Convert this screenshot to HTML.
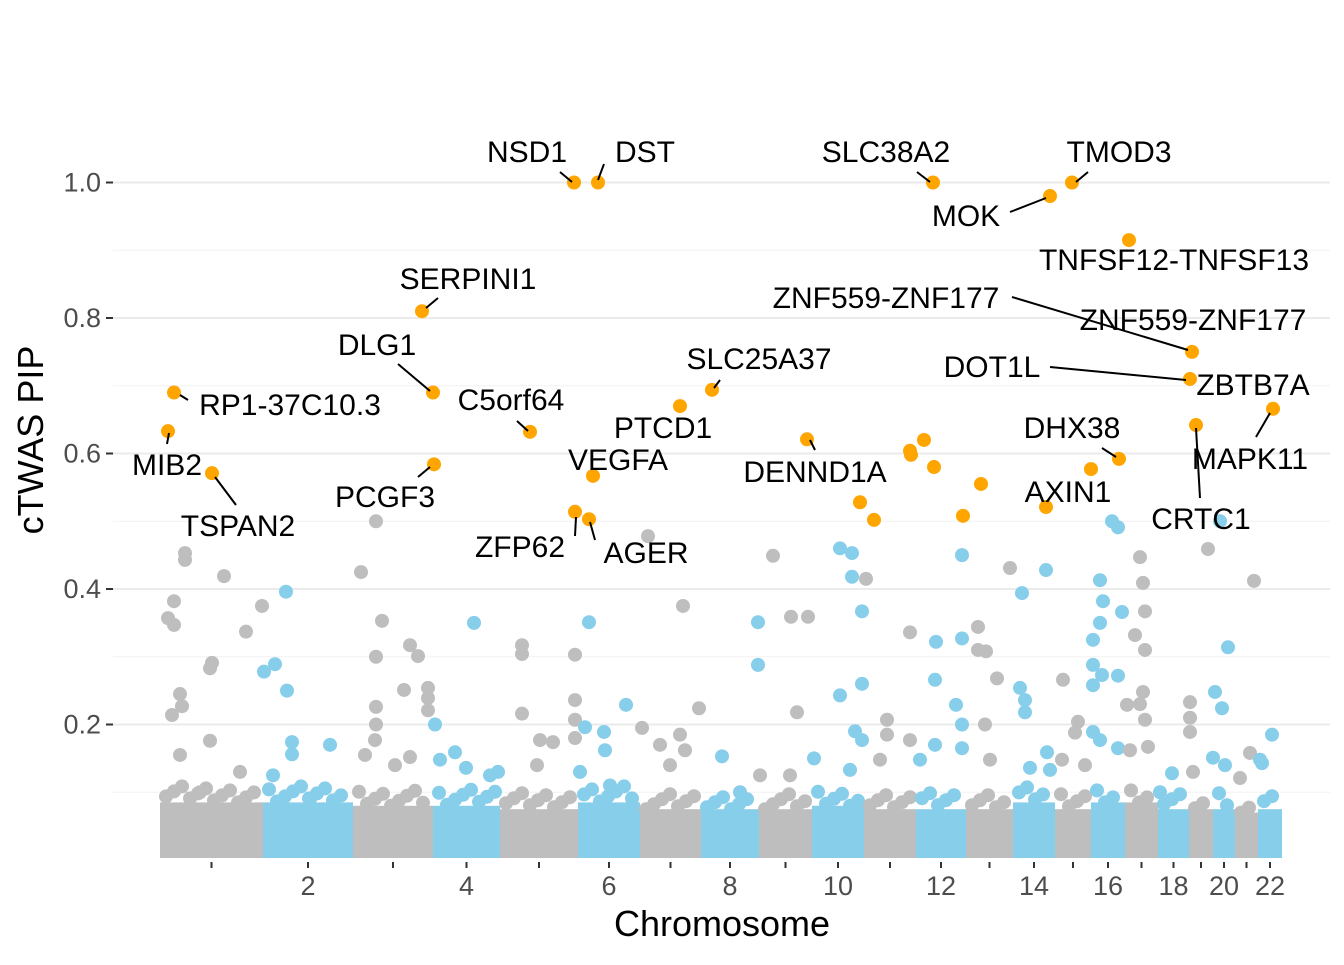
<!DOCTYPE html>
<html><head><meta charset="utf-8"><style>
body{margin:0;background:#fff}
svg text{font-family:"Liberation Sans",sans-serif}
</style></head><body>
<svg id="chart" width="1344" height="960" xmlns="http://www.w3.org/2000/svg">
<g id="grid"></g>
<g id="bands"></g>
<g id="pts"></g>
<g id="hits"></g>
<g id="labels"></g>
<g id="axes"></g>
<text x="722" y="936" font-size="36" text-anchor="middle" fill="#000">Chromosome</text>
<text transform="translate(43,440) rotate(-90)" font-size="36" text-anchor="middle" fill="#000">cTWAS PIP</text>
</svg>
<script>
const chrLen=[103,90,80,67,78,62,61,58,53,52,52,50,47,42,36,34,33,31,24,22,23,24];
const chrBand=[0.085,0.085,0.08,0.08,0.075,0.085,0.075,0.075,0.075,0.08,0.075,0.075,0.075,0.085,0.075,0.085,0.085,0.075,0.075,0.075,0.07,0.075];
const yTicks=[0.2,0.4,0.6,0.8,1.0];
const yTickLabels=["0.2","0.4","0.6","0.8","1.0"];
// background points: [cumulative position, pip]
const bgPoints=[[25,.453],[25,.443],[14,.382],[8,.357],[14,.347],[20,.245],[22,.227],[12,.214],[20,.155],[64,.419],[52,.291],[50,.283],[50,.176],[86,.337],[102,.375],[80,.13],[40,.10],
[126,.396],[104,.278],[115,.289],[127,.25],[132,.174],[132,.156],[170,.17],[113,.125],[150,.09],
[216,.5],[201,.425],[222,.353],[216,.3],[216,.226],[216,.2],[250,.317],[258,.301],[244,.251],[268,.254],[268,.239],[268,.221],[215,.177],[250,.152],[205,.155],[235,.14],
[314,.35],[275,.2],[295,.159],[306,.136],[330,.125],[338,.13],[280,.148],
[362,.317],[362,.304],[362,.216],[380,.177],[393,.174],[415,.303],[415,.236],[415,.207],[415,.18],[377,.14],
[429,.351],[425,.196],[444,.189],[445,.162],[420,.13],[466,.229],[450,.11],
[488,.478],[523,.375],[482,.195],[500,.17],[520,.185],[525,.162],[539,.224],[510,.14],
[598,.351],[598,.288],[562,.153],[580,.1],[600,.125],
[613,.449],[631,.359],[648,.359],[637,.218],[630,.125],
[680,.46],[692,.453],[692,.418],[702,.367],[702,.26],[680,.243],[695,.19],[702,.177],[654,.15],[690,.133],
[706,.415],[750,.336],[727,.207],[727,.185],[750,.177],[720,.148],
[776,.322],[775,.266],[802,.45],[802,.327],[796,.229],[802,.2],[802,.165],[775,.17],[760,.148],
[818,.344],[818,.31],[826,.308],[837,.268],[825,.2],[850,.431],[830,.148],
[862,.394],[886,.428],[860,.254],[865,.236],[865,.218],[887,.159],[870,.136],[890,.133],
[903,.266],[918,.204],[915,.188],[925,.14],[902,.148],
[952,.5],[958,.491],[940,.413],[943,.382],[940,.35],[933,.325],[933,.288],[933,.258],[942,.273],[962,.366],[958,.272],[933,.189],[940,.177],[958,.165],
[980,.447],[983,.409],[985,.367],[985,.31],[975,.332],[983,.248],[980,.23],[967,.229],[985,.207],[970,.162],[988,.167],
[1012,.128],[1000,.1],
[1048,.459],[1030,.233],[1030,.21],[1030,.189],[1033,.13],
[1060,.5],[1068,.314],[1055,.248],[1062,.224],[1053,.151],[1065,.14],
[1094,.412],[1090,.158],[1080,.121],
[1112,.185],[1100,.148],[1102,.143]];
// highlighted genes
const hitPos=[414,438,773,890,912,969,262,1032,1030,14,273,370,520,552,8,1113,1036,647,750,751,764,774,821,803,959,931,52,274,433,886,415,429,700,714];
const hitVal=[1.0,1.0,1.0,0.98,1.0,0.915,0.81,0.75,0.71,0.69,0.69,0.632,0.67,0.694,0.633,0.666,0.642,0.621,0.604,0.598,0.62,0.58,0.555,0.508,0.592,0.577,0.571,0.584,0.567,0.521,0.514,0.503,0.528,0.502];

const X0=160,Y0=860,YS=677.5,L=113,R=1330;
const ns="http://www.w3.org/2000/svg";
const xs=p=>X0+p, ys=v=>Y0-v*YS;
const starts=[];let c=0;for(const l of chrLen){starts.push(c);c+=l;}
const chrOf=p=>{let i=0;while(i<chrLen.length-1&&p>=starts[i+1])i++;return i;};
const colOf=i=>i%2===0?"#bebebe":"#87ceeb";
function mk(t,a,parent){const e=document.createElementNS(ns,t);for(const k in a)e.setAttribute(k,a[k]);parent.appendChild(e);return e;}
const G=id=>document.getElementById(id);
for(let v=0.1;v<=1.05;v+=0.2){const l=mk("line",{x1:L,x2:R,y1:ys(v),y2:ys(v),stroke:"#f2f2f2","stroke-width":1},G("grid"));

}
yTicks.forEach((v,i)=>{const l=mk("line",{x1:L,x2:R,y1:ys(v),y2:ys(v),stroke:"#ebebeb","stroke-width":2},G("grid"));


const t=mk("line",{x1:106,x2:113,y1:ys(v),y2:ys(v),stroke:"#333","stroke-width":2},G("axes"));


const tx=mk("text",{x:101,y:ys(v)+9,"font-size":27,"text-anchor":"end",fill:"#4d4d4d"},G("axes"));tx.textContent=yTickLabels[i];

});
chrLen.forEach((len,i)=>{const col=colOf(i);const x1=xs(starts[i]),x2=xs(starts[i]+len);const top=ys(chrBand[i]);
const r=mk("rect",{x:x1,y:top,width:len,height:Y0-2-top,fill:col},G("bands"));


for(let x=x1+6;x<x2-4;x+=8){const d=mk("circle",{cx:x,cy:top-((x*7)%17),r:7,fill:col},G("bands"));

}
const cx=xs(starts[i]+len/2);
const t=mk("line",{x1:cx,x2:cx,y1:862,y2:868,stroke:"#333","stroke-width":2},G("axes"));


if((i+1)%2===0){const tx=mk("text",{x:cx,y:895,"font-size":27,"text-anchor":"middle",fill:"#4d4d4d"},G("axes"));tx.textContent=String(i+1);

}});
bgPoints.forEach(p=>{const d=mk("circle",{cx:xs(p[0]),cy:ys(p[1]),r:7,fill:colOf(chrOf(p[0]))},G("pts"));

});
hitPos.forEach((p,i)=>{const d=mk("circle",{cx:xs(p),cy:ys(hitVal[i]),r:7,fill:"#ffa500"},G("hits"));

});
const labs=[["NSD1",527,152,[560,172,572,182]],["DST",645,152,[604,164,598,180]],["SLC38A2",886,152,[917,172,930,182]],
["MOK",966,216,[1010,212,1046,198]],["TMOD3",1119,152,[1088,172,1076,182]],["TNFSF12-TNFSF13",1174,260,null],
["SERPINI1",468,279,[438,298,426,308]],["ZNF559-ZNF177",886,298,[1012,297,1188,350]],["ZNF559-ZNF177",1193,320,null],
["DLG1",377,345,[398,364,430,391]],["SLC25A37",759,359,[720,380,714,388]],["DOT1L",992,367,[1050,367,1186,380]],
["ZBTB7A",1253,385,null],["RP1-37C10.3",290,405,[180,395,188,400]],["C5orf64",511,400,[517,421,528,431]],
["PTCD1",663,428,null],["MIB2",167,465,[167,444,169,433]],["MAPK11",1250,459,[1256,437,1270,413]],
["CRTC1",1201,519,[1200,498,1196,428]],["DHX38",1072,428,[1102,448,1116,457]],["DENND1A",815,472,[810,440,815,450]],
["VEGFA",618,460,null],["TSPAN2",238,526,[236,505,215,477]],["PCGF3",385,497,[418,477,430,467]],
["AXIN1",1068,492,null],["ZFP62",520,547,[575,536,576,517]],["AGER",646,553,[595,540,590,522]]];
labs.forEach(l=>{if(l[3]){const s=mk("line",{x1:l[3][0],y1:l[3][1],x2:l[3][2],y2:l[3][3],stroke:"#000","stroke-width":2},G("labels"));

}
const t=mk("text",{x:l[1],y:l[2]+10,"font-size":30,"text-anchor":"middle",fill:"#000"},G("labels"));t.textContent=l[0];

});
</script>
</body></html>
